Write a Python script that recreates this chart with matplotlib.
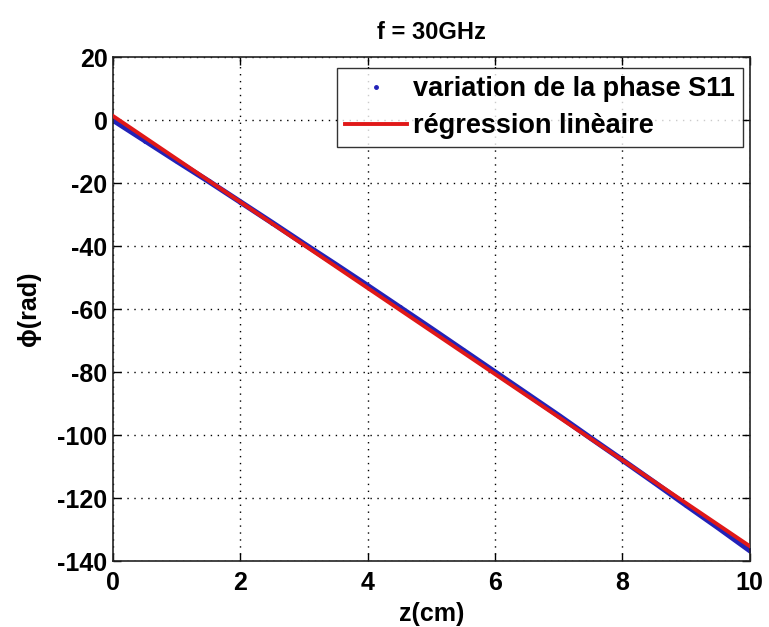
import numpy as np
import matplotlib
matplotlib.use('Agg')
import matplotlib.pyplot as plt
from matplotlib.lines import Line2D

plt.rcParams['font.family'] = ['Liberation Sans', 'DejaVu Sans']
plt.rcParams['font.weight'] = 'bold'
plt.rcParams['axes.unicode_minus'] = False

z_cm = [0.0, 0.5, 1.0, 1.5, 2.0, 2.5, 3.0, 3.5, 4.0, 4.5, 5.0,
        5.5, 6.0, 6.5, 7.0, 7.5, 8.0, 8.5, 9.0, 9.5, 10.0]
phase = [0.0, -6.5, -13.0, -19.4, -26.0, -32.6, -39.3, -45.9, -52.6, -59.4, -66.2,
         -73.1, -80.0, -86.9, -93.8, -100.9, -107.9, -115.0, -122.2, -129.3, -136.6]

xticks = [0, 2, 4, 6, 8, 10]
yticks = [20, 0, -20, -40, -60, -80, -100, -120, -140]

fig = plt.figure(figsize=(7.69, 6.27), dpi=100)
ax = fig.add_axes([0.147, 0.105, 0.828, 0.804])

z = np.array(z_cm)
phi = np.array(phase)
a, b = np.polyfit(z, phi, 1)

# measured points drawn dense, regression on top
ax.plot(z, phi, color='#2222b8', lw=4, marker='.', ms=5, zorder=2)
ax.plot(z, a * z + b, color='#e01818', lw=2.8, zorder=3)

ax.set_xlim(0, 10)
ax.set_ylim(-140, 20)
ax.set_xticks(xticks)
ax.set_yticks(yticks)
ax.tick_params(direction='in', top=True, right=True, labelsize=18, length=6, width=1)
ax.tick_params(axis='x', pad=7)
ax.tick_params(axis='y', pad=4)
for lab in ax.get_xticklabels() + ax.get_yticklabels():
    lab.set_fontweight('bold')
ax.grid(True, linestyle=(0, (1, 4)), color='black', lw=1)
for s in ax.spines.values():
    s.set_linewidth(1.2)
    s.set_color('#222222')

ax.set_title('f = 30GHz', fontsize=17, fontweight='bold', pad=13)
ax.set_xlabel('z(cm)', fontsize=18, fontweight='bold', labelpad=5)
ax.set_ylabel('ϕ(rad)', fontsize=18, fontweight='bold', labelpad=12)

handles = [Line2D([], [], color='#2222b8', marker='.', ls='none', ms=5),
           Line2D([], [], color='#e01818', lw=2.8)]
leg = ax.legend(handles, ['variation de la phase S11', 'régression linèaire'],
                loc='upper right', fontsize=19.5, frameon=True, fancybox=False,
                edgecolor='black', borderpad=0.3, labelspacing=0.4,
                handlelength=2.3, handletextpad=0.2, borderaxespad=0,
                bbox_to_anchor=(0.989, 0.978))
leg.get_frame().set_linewidth(1)
for t in leg.get_texts():
    t.set_fontweight('bold')

fig.savefig('out.png', dpi=100, facecolor='white')
